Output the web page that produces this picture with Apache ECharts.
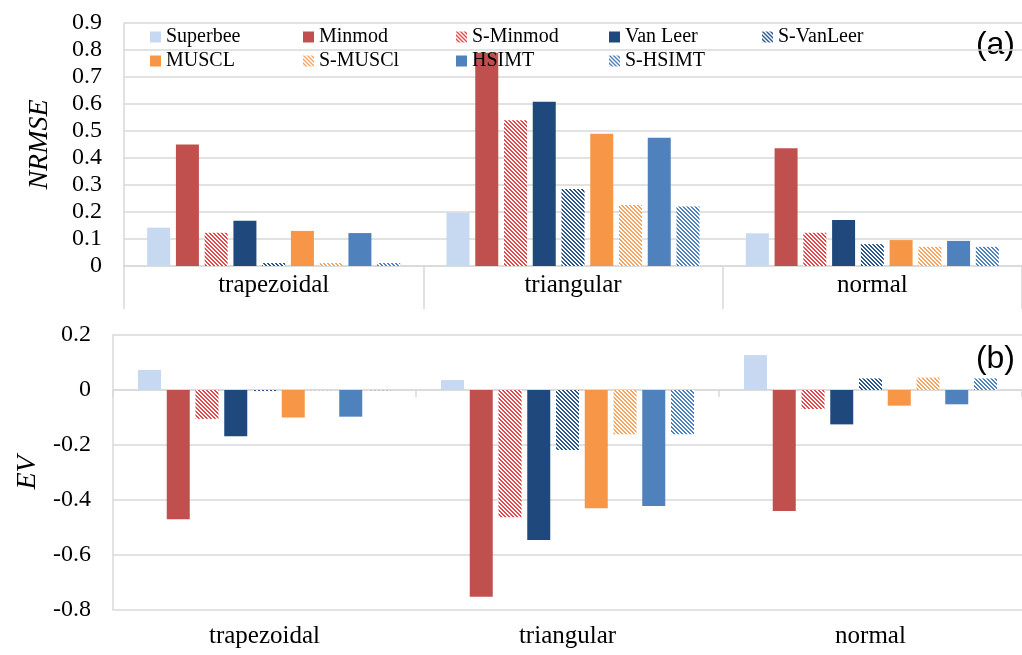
<!DOCTYPE html>
<html>
<head>
<meta charset="utf-8">
<script src="https://cdn.jsdelivr.net/npm/echarts@6/dist/echarts.min.js"></script>
<style>
  html, body { margin: 0; padding: 0; background: #fff; }
  #chart { width: 1022px; height: 655px; }
</style>
</head>
<body>
<div id="chart"></div>
<script>
// Profile shapes (categories) and the limiter schemes (series)
const categories = ['trapezoidal', 'triangular', 'normal'];
const schemes = ['Superbee', 'Minmod', 'S-Minmod', 'Van Leer', 'S-VanLeer', 'MUSCL', 'S-MUSCl', 'HSIMT', 'S-HSIMT'];

// NRMSE per scheme, ordered as categories
const nrmseSuperbee  = [0.142, 0.197, 0.121];
const nrmseMinmod    = [0.450, 0.790, 0.436];
const nrmseSMinmod   = [0.123, 0.540, 0.123];
const nrmseVanLeer   = [0.168, 0.608, 0.170];
const nrmseSVanLeer  = [0.011, 0.285, 0.081];
const nrmseMUSCL     = [0.130, 0.490, 0.096];
const nrmseSMUSCl    = [0.011, 0.226, 0.071];
const nrmseHSIMT     = [0.122, 0.475, 0.093];
const nrmseSHSIMT    = [0.011, 0.220, 0.071];

// EV per scheme, ordered as categories
const evSuperbee  = [0.073, 0.036, 0.127];
const evMinmod    = [-0.470, -0.752, -0.440];
const evSMinmod   = [-0.105, -0.463, -0.069];
const evVanLeer   = [-0.168, -0.545, -0.125];
const evSVanLeer  = [-0.004, -0.218, 0.042];
const evMUSCL     = [-0.100, -0.430, -0.057];
const evSMUSCl    = [-0.001, -0.161, 0.045];
const evHSIMT     = [-0.097, -0.422, -0.052];
const evSHSIMT    = [-0.001, -0.161, 0.042];

// Axis tick labels
const nrmseTicks = ['0', '0.1', '0.2', '0.3', '0.4', '0.5', '0.6', '0.7', '0.8', '0.9'];
const evTicks = ['-0.8', '-0.6', '-0.4', '-0.2', '0', '0.2'];

const nrmseData = [nrmseSuperbee, nrmseMinmod, nrmseSMinmod, nrmseVanLeer, nrmseSVanLeer,
                   nrmseMUSCL, nrmseSMUSCl, nrmseHSIMT, nrmseSHSIMT];
const evData = [evSuperbee, evMinmod, evSMinmod, evVanLeer, evSVanLeer,
                evMUSCL, evSMUSCl, evHSIMT, evSHSIMT];

// Diagonal stripe tile for the smoothed ("S-") variants
function stripes(color) {
  const n = 4;
  const c = document.createElement('canvas');
  c.width = n; c.height = n;
  const g = c.getContext('2d');
  g.fillStyle = '#ffffff';
  g.fillRect(0, 0, n, n);
  g.fillStyle = color;
  for (let y = 0; y < n; y++) {
    for (let x = 0; x < n; x++) {
      const d = ((x - y) % n + n) % n;
      if (d === 0 || d === 1) g.fillRect(x, y, 1, 1);
    }
  }
  return { image: c, repeat: 'repeat' };
}

const fills = [
  '#C6D9F0',
  '#C0504D',
  stripes('#E2494B'),
  '#1F497D',
  stripes('#2B578C'),
  '#F79646',
  stripes('#F7A460'),
  '#4F81BD',
  stripes('#4F81BD')
];

const serif = 'Liberation Serif';
const gridColor = '#D9D9D9';

function tickFmt(list) {
  return function (v) {
    const s = String(Number(v.toFixed(1)));
    return list.indexOf(s) >= 0 ? s : '';
  };
}

const series = [];
schemes.forEach(function (name, i) {
  series.push({
    name: name, type: 'bar', xAxisIndex: 0, yAxisIndex: 0,
    data: nrmseData[i], barWidth: 23, barGap: '25%',
    itemStyle: { color: fills[i] }, animation: false
  });
  series.push({
    name: name, type: 'bar', xAxisIndex: 1, yAxisIndex: 1,
    data: evData[i], barWidth: 23, barGap: '25%',
    itemStyle: { color: fills[i] }, animation: false
  });
});

const legendText = { fontFamily: serif, fontSize: 20, color: '#000', width: 117, lineHeight: 22 };

const option = {
  backgroundColor: '#fff',
  animation: false,
  grid: [
    { left: 124, top: 23, width: 908, height: 243, containLabel: false },
    { left: 113, top: 335, width: 925, height: 275, containLabel: false }
  ],
  legend: [
    {
      data: schemes.slice(0, 5), left: 145, top: 21, itemWidth: 11, itemHeight: 11,
      itemGap: 20, icon: 'rect', textStyle: legendText, selectedMode: false
    },
    {
      data: schemes.slice(5), left: 145, top: 45, itemWidth: 11, itemHeight: 11,
      itemGap: 20, icon: 'rect', textStyle: legendText, selectedMode: false
    }
  ],
  xAxis: [
    {
      type: 'category', gridIndex: 0, data: categories,
      axisLine: { lineStyle: { color: gridColor, width: 1.5 } },
      axisTick: { show: true, length: 43, lineStyle: { color: gridColor, width: 1.5 } },
      axisLabel: { fontFamily: serif, fontSize: 25, color: '#000', margin: 7 }
    },
    {
      type: 'category', gridIndex: 1, data: categories,
      axisLine: { onZero: true, lineStyle: { color: gridColor, width: 1.5 } },
      axisTick: { show: true, length: 7, lineStyle: { color: gridColor, width: 1.5 } },
      axisLabel: { show: false }
    },
    {
      type: 'category', gridIndex: 1, data: categories, position: 'bottom',
      axisLine: { show: false, onZero: false },
      axisTick: { show: false },
      axisLabel: { fontFamily: serif, fontSize: 25, color: '#000', margin: 14 }
    }
  ],
  yAxis: [
    {
      type: 'value', gridIndex: 0, min: 0, max: 0.9, interval: 0.1,
      name: 'NRMSE', nameLocation: 'middle', nameGap: 70, nameRotate: 90,
      nameTextStyle: { fontFamily: serif, fontStyle: 'italic', fontSize: 28, color: '#000' },
      axisLine: { show: true, lineStyle: { color: gridColor, width: 1.5 } },
      axisTick: { show: false },
      splitLine: { lineStyle: { color: gridColor, width: 1.5 } },
      axisLabel: { fontFamily: serif, fontSize: 24, color: '#000', margin: 22, formatter: tickFmt(nrmseTicks) }
    },
    {
      type: 'value', gridIndex: 1, min: -0.8, max: 0.2, interval: 0.2,
      name: 'EV', nameLocation: 'middle', nameGap: 68, nameRotate: 90,
      nameTextStyle: { fontFamily: serif, fontStyle: 'italic', fontSize: 28, color: '#000' },
      axisLine: { show: true, lineStyle: { color: gridColor, width: 1.5 } },
      axisTick: { show: false },
      splitLine: { lineStyle: { color: gridColor, width: 1.5 } },
      axisLabel: { fontFamily: serif, fontSize: 24, color: '#000', margin: 22, formatter: tickFmt(evTicks) }
    }
  ],
  graphic: [
    { type: 'text', right: 7, top: 29, style: { text: '(a)', font: '32px "Liberation Sans"', fill: '#000' } },
    { type: 'text', right: 7, top: 343, style: { text: '(b)', font: '32px "Liberation Sans"', fill: '#000' } }
  ],
  series: series
};

const chart = echarts.init(document.getElementById('chart'), null, { renderer: 'canvas' });
chart.setOption(option);
</script>
</body>
</html>
